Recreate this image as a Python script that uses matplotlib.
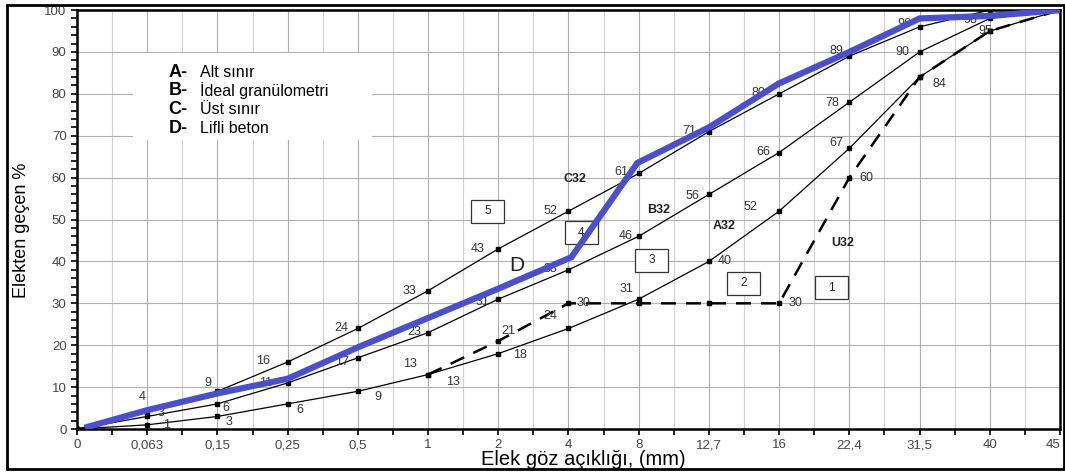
import matplotlib
matplotlib.use("Agg")
import matplotlib.pyplot as plt
from matplotlib.patches import Rectangle
from matplotlib.ticker import MultipleLocator

plt.rcParams['font.family'] = ['Liberation Sans', 'DejaVu Sans']

# sieve sizes (mm), drawn at equal spacing
sieves = ['0', '0,063', '0,15', '0,25', '0,5', '1', '2', '4', '8',
          '12,7', '16', '22,4', '31,5', '40', '45']
pos = list(range(len(sieves)))

# passing % for the limit curves
A32 = [0, 1, 3, 6, 9, 13, 18, 24, 31, 40, 52, 67, 84, 95, 100]
B32 = [0, 3, 6, 11, 17, 23, 31, 38, 46, 56, 66, 78, 90, 98, 100]
C32 = [0, 4, 9, 16, 24, 33, 43, 52, 61, 71, 80, 89, 96, 100, 100]
U32_x = [5, 6, 7, 8, 9, 10, 11, 12, 13, 14]
U32 = [13, 21, 30, 30, 30, 30, 60, 84, 95, 100]

# fibre concrete mix (D)
D_x = [0.15, 1, 2, 3, 4, 5, 6, 7.04, 7.98, 9, 10, 11, 12, 13, 14]
D_y = [0.5, 4.5, 8.5, 12, 19.5, 26.5, 33.5, 41, 63.5, 72, 82.5, 90, 98, 98.6, 100]

# value labels: (text, x, y)
lab_C = [('4', 0.93, 7.6), ('9', 1.87, 11), ('16', 2.65, 16.2), ('24', 3.77, 24.1),
         ('33', 4.74, 32.9), ('43', 5.71, 43), ('52', 6.74, 52), ('61', 7.75, 61.3),
         ('71', 8.72, 71.1), ('80', 9.7, 80.2), ('89', 10.81, 90.2), ('96', 11.79, 96.6)]
lab_B = [('3', 1.2, 3.9), ('6', 2.12, 5), ('11', 2.68, 11), ('17', 3.77, 16),
         ('23', 4.81, 23.2), ('31', 5.77, 30.3), ('38', 6.74, 38.2), ('46', 7.81, 46),
         ('56', 8.77, 55.6), ('66', 9.77, 66.1), ('78', 10.75, 77.8), ('90', 11.75, 90),
         ('98', 12.72, 97.6)]
lab_A = [('1', 1.28, 1.0), ('3', 2.17, 1.6), ('6', 3.18, 4.5), ('9', 4.29, 7.6),
         ('13', 4.74, 15.5), ('18', 6.31, 17.7), ('24', 6.74, 27), ('31', 7.82, 33.4),
         ('40', 9.23, 40.1), ('52', 9.59, 53), ('67', 10.81, 68.3), ('84', 12.29, 82.3),
         ('95', 12.93, 95)]
lab_U = [('13', 5.36, 11.2), ('21', 6.14, 23.4), ('30', 7.21, 30), ('30', 10.23, 30),
         ('60', 11.24, 59.9)]
curve_names = [('C32', 7.09, 59.7), ('B32', 8.28, 52.3), ('A32', 9.22, 48.4), ('U32', 10.91, 44.4)]
zones = [('5', 5.85, 52), ('4', 7.18, 46.8), ('3', 8.18, 40.3), ('2', 9.49, 34.8), ('1', 10.75, 33.7)]
legend_rows = [('A-', 'Alt sınır'), ('B-', 'İdeal granülometri'),
               ('C-', 'Üst sınır'), ('D-', 'Lifli beton')]

fig = plt.figure(figsize=(10.65, 4.75), dpi=100)
ax = fig.add_axes([0.0723, 0.0968, 0.923, 0.882])

for xs, ys in [(pos, A32), (pos, B32), (pos, C32)]:
    ax.plot(xs, ys, color='black', lw=0.9, marker='s', ms=3, zorder=3)
ax.plot(U32_x, U32, color='black', lw=1.8, ls=(0, (6, 4)), marker='s', ms=3, zorder=3)
ax.plot(D_x, D_y, color='#4a50cc', lw=4.5, solid_joinstyle='miter', zorder=5)

for lst in [lab_C, lab_B, lab_A, lab_U]:
    for t, x, y in lst:
        ax.text(x, y, t, fontsize=9, color='#333333', ha='center', va='center', zorder=4)
for t, x, y in curve_names:
    ax.text(x, y, t, fontsize=9, fontweight='bold', color='#222222', ha='center', va='center', zorder=4)
ax.text(6.27, 39.1, 'D', fontsize=15, color='#222222', ha='center', va='center', zorder=4)
for t, x, y in zones:
    ax.add_patch(Rectangle((x - 0.235, y - 2.75), 0.47, 5.5, fc='white', ec='#333333',
                           lw=0.9, zorder=4))
    ax.text(x, y, t, fontsize=8.5, color='#222222', ha='center', va='center', zorder=4.5)

# legend block
ax.add_patch(Rectangle((0.8, 69), 3.4, 20.7, fc='white', ec='none', zorder=2))
for i, (k, d) in enumerate(legend_rows):
    yy = 85.2 - i * 4.5
    ax.text(1.3, yy, k, fontsize=13, fontweight='bold', ha='left', va='center', zorder=4)
    ax.text(1.75, yy, d, fontsize=11.5, ha='left', va='center', zorder=4)

ax.set_xlim(0, 14)
ax.set_ylim(0, 100)
ax.set_xticks(pos)
ax.set_xticklabels(sieves)
ax.get_xticklabels()[-1].set_horizontalalignment('right')
ax.xaxis.set_minor_locator(MultipleLocator(0.5))
ax.yaxis.set_major_locator(MultipleLocator(10))
ax.yaxis.set_minor_locator(MultipleLocator(2))
ax.tick_params(axis='both', which='major', labelsize=9.5, labelcolor='#444444',
               length=4, width=1.2, direction='out')
ax.tick_params(axis='both', which='minor', length=4, width=1.2, direction='out')
ax.grid(True, which='major', axis='both', color='#b0b0b0', lw=0.8, zorder=0)
ax.grid(True, which='minor', axis='x', color='#d0d0d0', lw=0.8, zorder=0)
ax.set_axisbelow(True)
for s in ax.spines.values():
    s.set_linewidth(1.8)

fig.text(0.548, 0.032, 'Elek göz açıklığı, (mm)', fontsize=14.5, ha='center', va='center')
fig.text(0.02, 0.516, 'Elekten geçen %', fontsize=13, rotation=90, ha='center', va='center')

fig.patches.append(Rectangle((0.0066, 0.0126), 0.992, 0.977, transform=fig.transFigure,
                             fill=False, ec='black', lw=2))

fig.savefig('out.png', dpi=100)
